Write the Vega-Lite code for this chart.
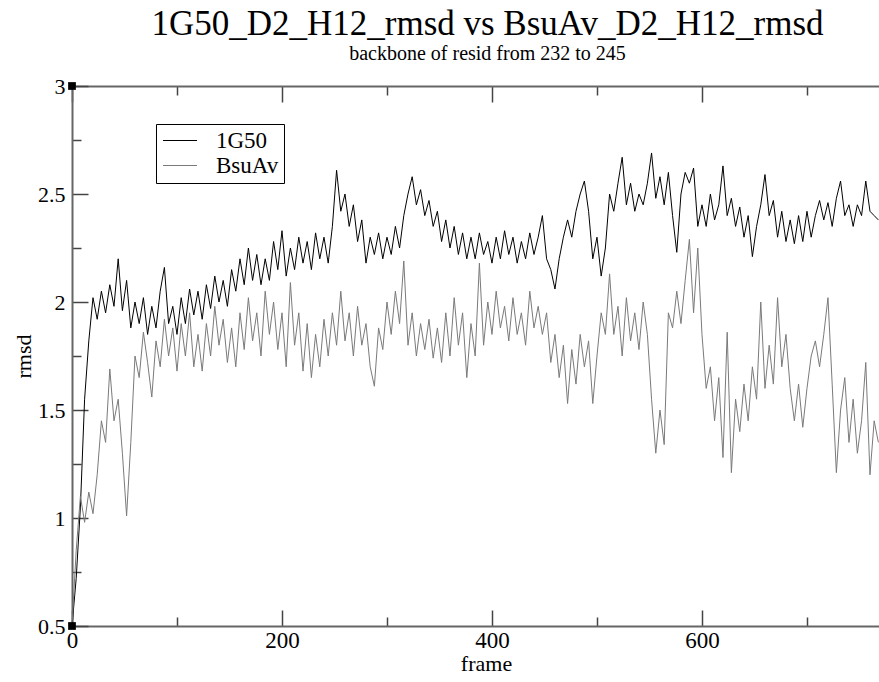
{
  "$schema": "https://vega.github.io/schema/vega-lite/v6.json",
  "width": 807,
  "height": 540,
  "autosize": {"type": "none"},
  "padding": {"left": 72, "top": 86, "right": 0, "bottom": 56},
  "background": "white",
  "config": {"view": {"stroke": null}, "font": "Liberation Serif"},
  "title": {
    "text": "1G50_D2_H12_rmsd vs BsuAv_D2_H12_rmsd",
    "subtitle": "backbone of resid from 232 to 245",
    "font": "Liberation Serif",
    "fontSize": 35,
    "fontWeight": "normal",
    "color": "black",
    "subtitleFont": "Liberation Serif",
    "subtitleFontSize": 20,
    "subtitleColor": "black",
    "subtitlePadding": 2,
    "anchor": "middle",
    "dx": 12,
    "offset": 11
  },
  "datasets": {
    "marks": [{"frame": 0, "rmsd": 3}, {"frame": 0, "rmsd": 0.5}],
    "rmsd": [
      {"series":"1G50","frame":0,"rmsd":0.5},{"series":"1G50","frame":4,"rmsd":0.72},{"series":"1G50","frame":8,"rmsd":1.05},{"series":"1G50","frame":12,"rmsd":1.55},{"series":"1G50","frame":16,"rmsd":1.82},{"series":"1G50","frame":20,"rmsd":2.02},{"series":"1G50","frame":24,"rmsd":1.92},{"series":"1G50","frame":28,"rmsd":2.05},{"series":"1G50","frame":32,"rmsd":1.95},{"series":"1G50","frame":36,"rmsd":2.08},{"series":"1G50","frame":40,"rmsd":1.98},{"series":"1G50","frame":44,"rmsd":2.2},{"series":"1G50","frame":48,"rmsd":1.96},{"series":"1G50","frame":52,"rmsd":2.1},{"series":"1G50","frame":56,"rmsd":1.88},{"series":"1G50","frame":60,"rmsd":2.0},{"series":"1G50","frame":64,"rmsd":1.9},{"series":"1G50","frame":68,"rmsd":2.02},{"series":"1G50","frame":72,"rmsd":1.85},{"series":"1G50","frame":76,"rmsd":1.98},{"series":"1G50","frame":80,"rmsd":1.88},{"series":"1G50","frame":84,"rmsd":2.05},{"series":"1G50","frame":88,"rmsd":2.16},{"series":"1G50","frame":92,"rmsd":1.9},{"series":"1G50","frame":96,"rmsd":1.98},{"series":"1G50","frame":100,"rmsd":1.85},{"series":"1G50","frame":104,"rmsd":2.02},{"series":"1G50","frame":108,"rmsd":1.9},{"series":"1G50","frame":112,"rmsd":2.06},{"series":"1G50","frame":116,"rmsd":1.94},{"series":"1G50","frame":120,"rmsd":2.05},{"series":"1G50","frame":124,"rmsd":1.92},{"series":"1G50","frame":128,"rmsd":2.08},{"series":"1G50","frame":132,"rmsd":1.97},{"series":"1G50","frame":136,"rmsd":2.12},{"series":"1G50","frame":140,"rmsd":2.0},{"series":"1G50","frame":144,"rmsd":2.1},{"series":"1G50","frame":148,"rmsd":1.98},{"series":"1G50","frame":152,"rmsd":2.15},{"series":"1G50","frame":156,"rmsd":2.05},{"series":"1G50","frame":160,"rmsd":2.2},{"series":"1G50","frame":164,"rmsd":2.08},{"series":"1G50","frame":168,"rmsd":2.25},{"series":"1G50","frame":172,"rmsd":2.1},{"series":"1G50","frame":176,"rmsd":2.22},{"series":"1G50","frame":180,"rmsd":2.08},{"series":"1G50","frame":184,"rmsd":2.2},{"series":"1G50","frame":188,"rmsd":2.1},{"series":"1G50","frame":192,"rmsd":2.28},{"series":"1G50","frame":196,"rmsd":2.15},{"series":"1G50","frame":200,"rmsd":2.33},{"series":"1G50","frame":204,"rmsd":2.12},{"series":"1G50","frame":208,"rmsd":2.25},{"series":"1G50","frame":212,"rmsd":2.15},{"series":"1G50","frame":216,"rmsd":2.3},{"series":"1G50","frame":220,"rmsd":2.18},{"series":"1G50","frame":224,"rmsd":2.28},{"series":"1G50","frame":228,"rmsd":2.15},{"series":"1G50","frame":232,"rmsd":2.32},{"series":"1G50","frame":236,"rmsd":2.2},{"series":"1G50","frame":240,"rmsd":2.3},{"series":"1G50","frame":244,"rmsd":2.18},{"series":"1G50","frame":248,"rmsd":2.35},{"series":"1G50","frame":252,"rmsd":2.61},{"series":"1G50","frame":256,"rmsd":2.42},{"series":"1G50","frame":260,"rmsd":2.5},{"series":"1G50","frame":264,"rmsd":2.35},{"series":"1G50","frame":268,"rmsd":2.45},{"series":"1G50","frame":272,"rmsd":2.28},{"series":"1G50","frame":276,"rmsd":2.38},{"series":"1G50","frame":280,"rmsd":2.18},{"series":"1G50","frame":284,"rmsd":2.3},{"series":"1G50","frame":288,"rmsd":2.22},{"series":"1G50","frame":292,"rmsd":2.32},{"series":"1G50","frame":296,"rmsd":2.2},{"series":"1G50","frame":300,"rmsd":2.3},{"series":"1G50","frame":304,"rmsd":2.22},{"series":"1G50","frame":308,"rmsd":2.35},{"series":"1G50","frame":312,"rmsd":2.25},{"series":"1G50","frame":316,"rmsd":2.4},{"series":"1G50","frame":320,"rmsd":2.5},{"series":"1G50","frame":324,"rmsd":2.58},{"series":"1G50","frame":328,"rmsd":2.45},{"series":"1G50","frame":332,"rmsd":2.52},{"series":"1G50","frame":336,"rmsd":2.4},{"series":"1G50","frame":340,"rmsd":2.47},{"series":"1G50","frame":344,"rmsd":2.35},{"series":"1G50","frame":348,"rmsd":2.42},{"series":"1G50","frame":352,"rmsd":2.28},{"series":"1G50","frame":356,"rmsd":2.38},{"series":"1G50","frame":360,"rmsd":2.25},{"series":"1G50","frame":364,"rmsd":2.35},{"series":"1G50","frame":368,"rmsd":2.22},{"series":"1G50","frame":372,"rmsd":2.32},{"series":"1G50","frame":376,"rmsd":2.2},{"series":"1G50","frame":380,"rmsd":2.3},{"series":"1G50","frame":384,"rmsd":2.2},{"series":"1G50","frame":388,"rmsd":2.32},{"series":"1G50","frame":392,"rmsd":2.22},{"series":"1G50","frame":396,"rmsd":2.28},{"series":"1G50","frame":400,"rmsd":2.18},{"series":"1G50","frame":404,"rmsd":2.3},{"series":"1G50","frame":408,"rmsd":2.2},{"series":"1G50","frame":412,"rmsd":2.33},{"series":"1G50","frame":416,"rmsd":2.22},{"series":"1G50","frame":420,"rmsd":2.3},{"series":"1G50","frame":424,"rmsd":2.18},{"series":"1G50","frame":428,"rmsd":2.28},{"series":"1G50","frame":432,"rmsd":2.2},{"series":"1G50","frame":436,"rmsd":2.32},{"series":"1G50","frame":440,"rmsd":2.22},{"series":"1G50","frame":444,"rmsd":2.3},{"series":"1G50","frame":448,"rmsd":2.4},{"series":"1G50","frame":452,"rmsd":2.2},{"series":"1G50","frame":456,"rmsd":2.15},{"series":"1G50","frame":460,"rmsd":2.06},{"series":"1G50","frame":464,"rmsd":2.2},{"series":"1G50","frame":468,"rmsd":2.3},{"series":"1G50","frame":472,"rmsd":2.38},{"series":"1G50","frame":476,"rmsd":2.3},{"series":"1G50","frame":480,"rmsd":2.42},{"series":"1G50","frame":484,"rmsd":2.5},{"series":"1G50","frame":488,"rmsd":2.56},{"series":"1G50","frame":492,"rmsd":2.42},{"series":"1G50","frame":496,"rmsd":2.2},{"series":"1G50","frame":500,"rmsd":2.3},{"series":"1G50","frame":504,"rmsd":2.12},{"series":"1G50","frame":508,"rmsd":2.25},{"series":"1G50","frame":512,"rmsd":2.5},{"series":"1G50","frame":516,"rmsd":2.42},{"series":"1G50","frame":520,"rmsd":2.55},{"series":"1G50","frame":524,"rmsd":2.67},{"series":"1G50","frame":528,"rmsd":2.45},{"series":"1G50","frame":532,"rmsd":2.55},{"series":"1G50","frame":536,"rmsd":2.42},{"series":"1G50","frame":540,"rmsd":2.5},{"series":"1G50","frame":544,"rmsd":2.45},{"series":"1G50","frame":548,"rmsd":2.55},{"series":"1G50","frame":552,"rmsd":2.69},{"series":"1G50","frame":556,"rmsd":2.48},{"series":"1G50","frame":560,"rmsd":2.58},{"series":"1G50","frame":564,"rmsd":2.45},{"series":"1G50","frame":568,"rmsd":2.6},{"series":"1G50","frame":572,"rmsd":2.4},{"series":"1G50","frame":576,"rmsd":2.23},{"series":"1G50","frame":580,"rmsd":2.5},{"series":"1G50","frame":584,"rmsd":2.6},{"series":"1G50","frame":588,"rmsd":2.55},{"series":"1G50","frame":592,"rmsd":2.62},{"series":"1G50","frame":596,"rmsd":2.35},{"series":"1G50","frame":600,"rmsd":2.45},{"series":"1G50","frame":604,"rmsd":2.35},{"series":"1G50","frame":608,"rmsd":2.5},{"series":"1G50","frame":612,"rmsd":2.38},{"series":"1G50","frame":616,"rmsd":2.45},{"series":"1G50","frame":620,"rmsd":2.63},{"series":"1G50","frame":624,"rmsd":2.4},{"series":"1G50","frame":628,"rmsd":2.48},{"series":"1G50","frame":632,"rmsd":2.35},{"series":"1G50","frame":636,"rmsd":2.44},{"series":"1G50","frame":640,"rmsd":2.3},{"series":"1G50","frame":644,"rmsd":2.4},{"series":"1G50","frame":648,"rmsd":2.21},{"series":"1G50","frame":652,"rmsd":2.35},{"series":"1G50","frame":656,"rmsd":2.45},{"series":"1G50","frame":660,"rmsd":2.59},{"series":"1G50","frame":664,"rmsd":2.4},{"series":"1G50","frame":668,"rmsd":2.47},{"series":"1G50","frame":672,"rmsd":2.3},{"series":"1G50","frame":676,"rmsd":2.42},{"series":"1G50","frame":680,"rmsd":2.28},{"series":"1G50","frame":684,"rmsd":2.38},{"series":"1G50","frame":688,"rmsd":2.27},{"series":"1G50","frame":692,"rmsd":2.4},{"series":"1G50","frame":696,"rmsd":2.28},{"series":"1G50","frame":700,"rmsd":2.42},{"series":"1G50","frame":704,"rmsd":2.3},{"series":"1G50","frame":708,"rmsd":2.4},{"series":"1G50","frame":712,"rmsd":2.47},{"series":"1G50","frame":716,"rmsd":2.38},{"series":"1G50","frame":720,"rmsd":2.46},{"series":"1G50","frame":724,"rmsd":2.35},{"series":"1G50","frame":728,"rmsd":2.48},{"series":"1G50","frame":732,"rmsd":2.56},{"series":"1G50","frame":736,"rmsd":2.4},{"series":"1G50","frame":740,"rmsd":2.45},{"series":"1G50","frame":744,"rmsd":2.35},{"series":"1G50","frame":748,"rmsd":2.45},{"series":"1G50","frame":752,"rmsd":2.4},{"series":"1G50","frame":756,"rmsd":2.56},{"series":"1G50","frame":760,"rmsd":2.42},{"series":"1G50","frame":764,"rmsd":2.4},{"series":"1G50","frame":768,"rmsd":2.38},
      {"series":"BsuAv","frame":0,"rmsd":0.5},{"series":"BsuAv","frame":4,"rmsd":0.85},{"series":"BsuAv","frame":8,"rmsd":1.1},{"series":"BsuAv","frame":12,"rmsd":0.98},{"series":"BsuAv","frame":16,"rmsd":1.12},{"series":"BsuAv","frame":20,"rmsd":1.02},{"series":"BsuAv","frame":24,"rmsd":1.2},{"series":"BsuAv","frame":28,"rmsd":1.45},{"series":"BsuAv","frame":32,"rmsd":1.35},{"series":"BsuAv","frame":36,"rmsd":1.69},{"series":"BsuAv","frame":40,"rmsd":1.45},{"series":"BsuAv","frame":44,"rmsd":1.55},{"series":"BsuAv","frame":48,"rmsd":1.3},{"series":"BsuAv","frame":52,"rmsd":1.01},{"series":"BsuAv","frame":56,"rmsd":1.35},{"series":"BsuAv","frame":60,"rmsd":1.75},{"series":"BsuAv","frame":64,"rmsd":1.65},{"series":"BsuAv","frame":68,"rmsd":1.86},{"series":"BsuAv","frame":72,"rmsd":1.72},{"series":"BsuAv","frame":76,"rmsd":1.56},{"series":"BsuAv","frame":80,"rmsd":1.82},{"series":"BsuAv","frame":84,"rmsd":1.7},{"series":"BsuAv","frame":88,"rmsd":1.92},{"series":"BsuAv","frame":92,"rmsd":1.75},{"series":"BsuAv","frame":96,"rmsd":1.88},{"series":"BsuAv","frame":100,"rmsd":1.68},{"series":"BsuAv","frame":104,"rmsd":1.9},{"series":"BsuAv","frame":108,"rmsd":1.75},{"series":"BsuAv","frame":112,"rmsd":1.95},{"series":"BsuAv","frame":116,"rmsd":1.7},{"series":"BsuAv","frame":120,"rmsd":1.85},{"series":"BsuAv","frame":124,"rmsd":1.68},{"series":"BsuAv","frame":128,"rmsd":1.9},{"series":"BsuAv","frame":132,"rmsd":1.75},{"series":"BsuAv","frame":136,"rmsd":1.98},{"series":"BsuAv","frame":140,"rmsd":1.8},{"series":"BsuAv","frame":144,"rmsd":1.92},{"series":"BsuAv","frame":148,"rmsd":1.72},{"series":"BsuAv","frame":152,"rmsd":1.88},{"series":"BsuAv","frame":156,"rmsd":1.7},{"series":"BsuAv","frame":160,"rmsd":1.95},{"series":"BsuAv","frame":164,"rmsd":1.78},{"series":"BsuAv","frame":168,"rmsd":2.02},{"series":"BsuAv","frame":172,"rmsd":1.82},{"series":"BsuAv","frame":176,"rmsd":1.95},{"series":"BsuAv","frame":180,"rmsd":1.75},{"series":"BsuAv","frame":184,"rmsd":2.05},{"series":"BsuAv","frame":188,"rmsd":1.85},{"series":"BsuAv","frame":192,"rmsd":2.0},{"series":"BsuAv","frame":196,"rmsd":1.78},{"series":"BsuAv","frame":200,"rmsd":1.95},{"series":"BsuAv","frame":204,"rmsd":1.7},{"series":"BsuAv","frame":208,"rmsd":2.09},{"series":"BsuAv","frame":212,"rmsd":1.8},{"series":"BsuAv","frame":216,"rmsd":1.95},{"series":"BsuAv","frame":220,"rmsd":1.68},{"series":"BsuAv","frame":224,"rmsd":1.9},{"series":"BsuAv","frame":228,"rmsd":1.65},{"series":"BsuAv","frame":232,"rmsd":1.85},{"series":"BsuAv","frame":236,"rmsd":1.7},{"series":"BsuAv","frame":240,"rmsd":1.92},{"series":"BsuAv","frame":244,"rmsd":1.75},{"series":"BsuAv","frame":248,"rmsd":1.95},{"series":"BsuAv","frame":252,"rmsd":1.8},{"series":"BsuAv","frame":256,"rmsd":2.05},{"series":"BsuAv","frame":260,"rmsd":1.82},{"series":"BsuAv","frame":264,"rmsd":1.95},{"series":"BsuAv","frame":268,"rmsd":1.75},{"series":"BsuAv","frame":272,"rmsd":1.98},{"series":"BsuAv","frame":276,"rmsd":1.8},{"series":"BsuAv","frame":280,"rmsd":1.9},{"series":"BsuAv","frame":284,"rmsd":1.7},{"series":"BsuAv","frame":288,"rmsd":1.61},{"series":"BsuAv","frame":292,"rmsd":1.88},{"series":"BsuAv","frame":296,"rmsd":1.78},{"series":"BsuAv","frame":300,"rmsd":2.0},{"series":"BsuAv","frame":304,"rmsd":1.85},{"series":"BsuAv","frame":308,"rmsd":2.05},{"series":"BsuAv","frame":312,"rmsd":1.9},{"series":"BsuAv","frame":316,"rmsd":2.19},{"series":"BsuAv","frame":320,"rmsd":1.8},{"series":"BsuAv","frame":324,"rmsd":1.95},{"series":"BsuAv","frame":328,"rmsd":1.75},{"series":"BsuAv","frame":332,"rmsd":1.9},{"series":"BsuAv","frame":336,"rmsd":1.78},{"series":"BsuAv","frame":340,"rmsd":1.92},{"series":"BsuAv","frame":344,"rmsd":1.74},{"series":"BsuAv","frame":348,"rmsd":1.88},{"series":"BsuAv","frame":352,"rmsd":1.72},{"series":"BsuAv","frame":356,"rmsd":1.95},{"series":"BsuAv","frame":360,"rmsd":1.75},{"series":"BsuAv","frame":364,"rmsd":2.02},{"series":"BsuAv","frame":368,"rmsd":1.8},{"series":"BsuAv","frame":372,"rmsd":1.95},{"series":"BsuAv","frame":376,"rmsd":1.65},{"series":"BsuAv","frame":380,"rmsd":1.9},{"series":"BsuAv","frame":384,"rmsd":1.75},{"series":"BsuAv","frame":388,"rmsd":2.18},{"series":"BsuAv","frame":392,"rmsd":1.8},{"series":"BsuAv","frame":396,"rmsd":2.0},{"series":"BsuAv","frame":400,"rmsd":1.85},{"series":"BsuAv","frame":404,"rmsd":2.05},{"series":"BsuAv","frame":408,"rmsd":1.88},{"series":"BsuAv","frame":412,"rmsd":1.98},{"series":"BsuAv","frame":416,"rmsd":1.82},{"series":"BsuAv","frame":420,"rmsd":2.02},{"series":"BsuAv","frame":424,"rmsd":1.85},{"series":"BsuAv","frame":428,"rmsd":1.95},{"series":"BsuAv","frame":432,"rmsd":1.8},{"series":"BsuAv","frame":436,"rmsd":2.05},{"series":"BsuAv","frame":440,"rmsd":1.88},{"series":"BsuAv","frame":444,"rmsd":1.98},{"series":"BsuAv","frame":448,"rmsd":1.85},{"series":"BsuAv","frame":452,"rmsd":1.95},{"series":"BsuAv","frame":456,"rmsd":1.72},{"series":"BsuAv","frame":460,"rmsd":1.85},{"series":"BsuAv","frame":464,"rmsd":1.65},{"series":"BsuAv","frame":468,"rmsd":1.8},{"series":"BsuAv","frame":472,"rmsd":1.53},{"series":"BsuAv","frame":476,"rmsd":1.78},{"series":"BsuAv","frame":480,"rmsd":1.62},{"series":"BsuAv","frame":484,"rmsd":1.85},{"series":"BsuAv","frame":488,"rmsd":1.7},{"series":"BsuAv","frame":492,"rmsd":1.82},{"series":"BsuAv","frame":496,"rmsd":1.53},{"series":"BsuAv","frame":500,"rmsd":1.75},{"series":"BsuAv","frame":504,"rmsd":1.95},{"series":"BsuAv","frame":508,"rmsd":1.85},{"series":"BsuAv","frame":512,"rmsd":2.13},{"series":"BsuAv","frame":516,"rmsd":1.85},{"series":"BsuAv","frame":520,"rmsd":1.98},{"series":"BsuAv","frame":524,"rmsd":1.75},{"series":"BsuAv","frame":528,"rmsd":2.02},{"series":"BsuAv","frame":532,"rmsd":1.82},{"series":"BsuAv","frame":536,"rmsd":1.95},{"series":"BsuAv","frame":540,"rmsd":1.78},{"series":"BsuAv","frame":544,"rmsd":2.0},{"series":"BsuAv","frame":548,"rmsd":1.85},{"series":"BsuAv","frame":552,"rmsd":1.55},{"series":"BsuAv","frame":556,"rmsd":1.3},{"series":"BsuAv","frame":560,"rmsd":1.5},{"series":"BsuAv","frame":564,"rmsd":1.34},{"series":"BsuAv","frame":568,"rmsd":1.95},{"series":"BsuAv","frame":572,"rmsd":1.88},{"series":"BsuAv","frame":576,"rmsd":2.05},{"series":"BsuAv","frame":580,"rmsd":1.9},{"series":"BsuAv","frame":584,"rmsd":2.1},{"series":"BsuAv","frame":588,"rmsd":2.29},{"series":"BsuAv","frame":592,"rmsd":1.95},{"series":"BsuAv","frame":596,"rmsd":2.25},{"series":"BsuAv","frame":600,"rmsd":1.85},{"series":"BsuAv","frame":604,"rmsd":1.6},{"series":"BsuAv","frame":608,"rmsd":1.7},{"series":"BsuAv","frame":612,"rmsd":1.45},{"series":"BsuAv","frame":616,"rmsd":1.65},{"series":"BsuAv","frame":620,"rmsd":1.28},{"series":"BsuAv","frame":624,"rmsd":1.86},{"series":"BsuAv","frame":628,"rmsd":1.21},{"series":"BsuAv","frame":632,"rmsd":1.55},{"series":"BsuAv","frame":636,"rmsd":1.4},{"series":"BsuAv","frame":640,"rmsd":1.62},{"series":"BsuAv","frame":644,"rmsd":1.45},{"series":"BsuAv","frame":648,"rmsd":1.7},{"series":"BsuAv","frame":652,"rmsd":1.55},{"series":"BsuAv","frame":656,"rmsd":2.0},{"series":"BsuAv","frame":660,"rmsd":1.6},{"series":"BsuAv","frame":664,"rmsd":1.8},{"series":"BsuAv","frame":668,"rmsd":1.62},{"series":"BsuAv","frame":672,"rmsd":2.02},{"series":"BsuAv","frame":676,"rmsd":1.7},{"series":"BsuAv","frame":680,"rmsd":1.85},{"series":"BsuAv","frame":684,"rmsd":1.6},{"series":"BsuAv","frame":688,"rmsd":1.45},{"series":"BsuAv","frame":692,"rmsd":1.62},{"series":"BsuAv","frame":696,"rmsd":1.42},{"series":"BsuAv","frame":700,"rmsd":1.6},{"series":"BsuAv","frame":704,"rmsd":1.75},{"series":"BsuAv","frame":708,"rmsd":1.82},{"series":"BsuAv","frame":712,"rmsd":1.7},{"series":"BsuAv","frame":716,"rmsd":1.85},{"series":"BsuAv","frame":720,"rmsd":2.02},{"series":"BsuAv","frame":724,"rmsd":1.62},{"series":"BsuAv","frame":728,"rmsd":1.21},{"series":"BsuAv","frame":732,"rmsd":1.5},{"series":"BsuAv","frame":736,"rmsd":1.65},{"series":"BsuAv","frame":740,"rmsd":1.35},{"series":"BsuAv","frame":744,"rmsd":1.55},{"series":"BsuAv","frame":748,"rmsd":1.3},{"series":"BsuAv","frame":752,"rmsd":1.45},{"series":"BsuAv","frame":756,"rmsd":1.72},{"series":"BsuAv","frame":760,"rmsd":1.2},{"series":"BsuAv","frame":764,"rmsd":1.45},{"series":"BsuAv","frame":768,"rmsd":1.35}
    ]
  },
  "layer": [
    {
      "data": {"name": "rmsd"},
      "mark": {"type": "line", "strokeWidth": 1, "interpolate": "linear"},
      "encoding": {
        "x": {
          "field": "frame", "type": "quantitative",
          "scale": {"domain": [0, 768.6], "nice": false, "zero": false},
          "axis": {
            "orient": "bottom", "title": "frame",
            "values": [0, 100, 200, 300, 400, 500, 600, 700],
            "labelExpr": "datum.value % 200 === 0 ? format(datum.value, 'd') : ''",
            "grid": false,
            "domainColor": "#666", "domainWidth": 2,
            "tickColor": "#444", "tickWidth": 1.5,
            "tickSize": {"condition": {"test": "datum.value % 200 === 0", "value": -16}, "value": -9},
            "labelFont": "Liberation Serif", "labelFontSize": 23, "labelColor": "black",
            "labelPadding": 19, "labelFlush": false, "labelOverlap": false,
            "titleFont": "Liberation Serif", "titleFontSize": 22, "titleFontWeight": "normal", "titleColor": "black",
            "titleX": 414, "titleY": 44, "titleBaseline": "alphabetic"
          }
        },
        "y": {
          "field": "rmsd", "type": "quantitative",
          "scale": {"domain": [0.5, 3], "nice": false, "zero": false},
          "axis": {
            "orient": "left", "title": "rmsd",
            "values": [0.5, 0.75, 1, 1.25, 1.5, 1.75, 2, 2.25, 2.5, 2.75, 3],
            "labelExpr": "datum.value * 2 === round(datum.value * 2) ? format(datum.value, '~g') : ''",
            "grid": false,
            "domainColor": "#666", "domainWidth": 2,
            "tickColor": "#444", "tickWidth": 1.5,
            "tickSize": {"condition": {"test": "datum.value * 2 === round(datum.value * 2)", "value": -16}, "value": -9},
            "labelFont": "Liberation Serif", "labelFontSize": 22, "labelColor": "black",
            "labelPadding": 23, "labelFlush": false, "labelOverlap": false,
            "titleFont": "Liberation Serif", "titleFontSize": 22, "titleFontWeight": "normal", "titleColor": "black",
            "titleX": -42, "titleY": 270, "titleBaseline": "alphabetic", "titleAngle": -90, "titleAlign": "center"
          }
        },
        "color": {
          "field": "series", "type": "nominal",
          "scale": {"domain": ["1G50", "BsuAv"], "range": ["#000000", "#7a7a7a"]},
          "legend": {
            "title": null, "orient": "none", "legendX": 84, "legendY": 38,
            "symbolType": "M-2,0H2", "symbolSize": 289, "symbolStrokeWidth": 1.2, "symbolOffset": 7.5,
            "symbolFillColor": "transparent",
            "labelFont": "Liberation Serif", "labelFontSize": 23, "labelColor": "black",
            "labelOffset": 24.5, "rowPadding": 1, "padding": 5,
            "strokeColor": "black", "fillColor": "white"
          }
        }
      }
    },
    {
      "data": {"name": "marks"},
      "mark": {"type": "point", "shape": "square", "filled": true, "color": "black", "size": 60, "opacity": 1},
      "encoding": {
        "x": {
          "field": "frame", "type": "quantitative",
          "scale": {"domain": [0, 768.6], "nice": false, "zero": false},
          "axis": {
            "orient": "top", "title": null,
            "values": [0, 100, 200, 300, 400, 500, 600, 700],
            "labels": false, "grid": false,
            "domainColor": "#666", "domainWidth": 2,
            "tickColor": "#444", "tickWidth": 1.5,
            "tickSize": {"condition": {"test": "datum.value % 200 === 0", "value": -16}, "value": -9}
          }
        },
        "y": {
          "field": "rmsd", "type": "quantitative",
          "scale": {"domain": [0.5, 3], "nice": false, "zero": false},
          "axis": null
        }
      }
    }
  ],
  "resolve": {"axis": {"x": "independent", "y": "independent"}}
}
